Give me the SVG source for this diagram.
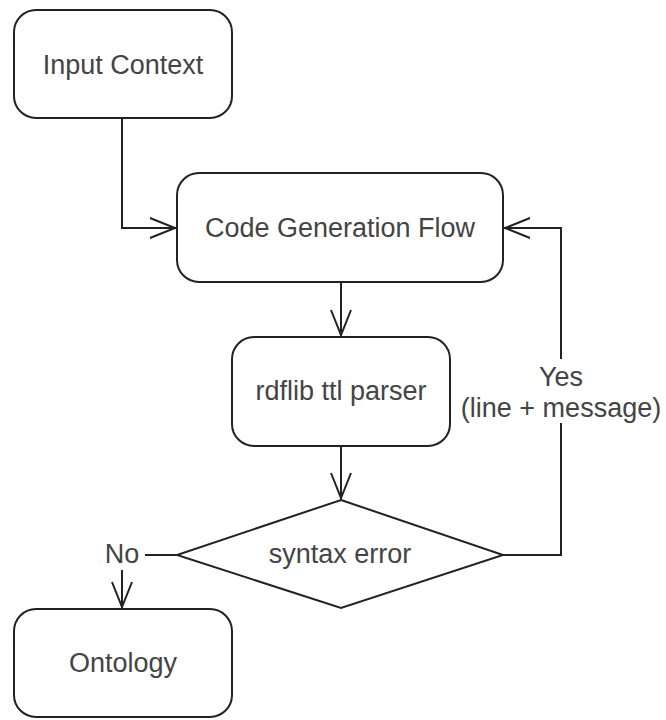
<svg xmlns="http://www.w3.org/2000/svg" width="666" height="720" viewBox="0 0 666 720">
  <defs>
    <marker id="open" viewBox="0 0 32 24" refX="28" refY="12" markerWidth="32" markerHeight="24" markerUnits="userSpaceOnUse" orient="auto">
      <path d="M2,2 L27,12 L2,22" fill="none" stroke="#222" stroke-width="2"/>
    </marker>
  </defs>
  <style>
    .box { fill: #fff; stroke: #222; stroke-width: 2; }
    .edge { fill: none; stroke: #222; stroke-width: 2; }
    .lbl { font-family: "Liberation Sans", Arial, sans-serif; font-size: 27px; fill: #444; text-anchor: middle; dominant-baseline: central; }
  </style>
  <rect width="666" height="720" fill="#fff"/>

  <g id="connectors">
    <path class="edge" d="M122,118 V228 H176" marker-end="url(#open)"/>
    <path class="edge" d="M341,282 V336" marker-end="url(#open)"/>
    <path class="edge" d="M341,446 V499" marker-end="url(#open)"/>
    <path class="edge" d="M503,555 H561 V423 M561,359 V228 H504" marker-end="url(#open)"/>
    <path class="edge" d="M177,555 H145"/>
    <path class="edge" d="M122,570 V608" marker-end="url(#open)"/>
    <text class="lbl" x="561" y="377">Yes</text>
    <text class="lbl" x="561" y="408">(line + message)</text>
    <text class="lbl" x="122" y="554">No</text>
  </g>

  <g id="input-context">
    <rect class="box" x="14" y="10" width="218" height="108" rx="22"/>
    <text class="lbl" x="123" y="65">Input Context</text>
  </g>

  <g id="code-generation-flow">
    <rect class="box" x="177" y="173" width="326" height="109" rx="22"/>
    <text class="lbl" x="340" y="228">Code Generation Flow</text>
  </g>

  <g id="rdflib-parser">
    <rect class="box" x="232" y="337" width="218" height="109" rx="22"/>
    <text class="lbl" x="341" y="391">rdflib ttl parser</text>
  </g>

  <g id="syntax-error">
    <polygon class="box" points="341,500 503,555 341,608 177,555"/>
    <text class="lbl" x="340" y="554">syntax error</text>
  </g>

  <g id="ontology">
    <rect class="box" x="14" y="609" width="218" height="108" rx="22"/>
    <text class="lbl" x="123" y="663">Ontology</text>
  </g>
</svg>
